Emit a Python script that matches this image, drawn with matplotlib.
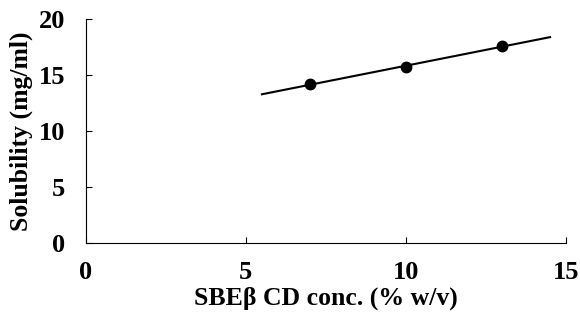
import numpy as np
import matplotlib.pyplot as plt

conc = [7, 10, 13]
solubility = [14.2, 15.7, 17.6]
fit_range = [5.5, 14.5]

plt.rcParams['font.family'] = ['Liberation Serif', 'DejaVu Serif']
plt.rcParams['font.weight'] = 'bold'

fig = plt.figure(figsize=(5.8, 3.17), dpi=100)
ax = fig.add_axes([0.148, 0.233, 0.828, 0.707])

# linear regression line through the points
slope, intercept = np.polyfit(conc, solubility, 1)
xf = np.array(fit_range)
ax.plot(xf, slope * xf + intercept, color='black', lw=1.5)
ax.plot(conc, solubility, 'o', color='black', markersize=7.5)

ax.set_xlim(0, 15)
ax.set_ylim(0, 20)
ax.set_xticks([0, 5, 10, 15])
ax.set_yticks([0, 5, 10, 15, 20])
ax.spines['top'].set_visible(False)
ax.spines['right'].set_visible(False)
for s in ('left', 'bottom'):
    ax.spines[s].set_linewidth(0.8)
ax.tick_params(direction='in', length=4, width=0.8, labelsize=19)
ax.tick_params(axis='x', pad=13)
ax.tick_params(axis='y', pad=15)
ax.set_xlabel('SBE\u03b2 CD conc. (% w/v)', fontsize=18.5, fontweight='bold', labelpad=2)
ax.set_ylabel('Solubility (mg/ml)', fontsize=18.5, fontweight='bold', labelpad=4)

fig.savefig('out.png', dpi=100)
